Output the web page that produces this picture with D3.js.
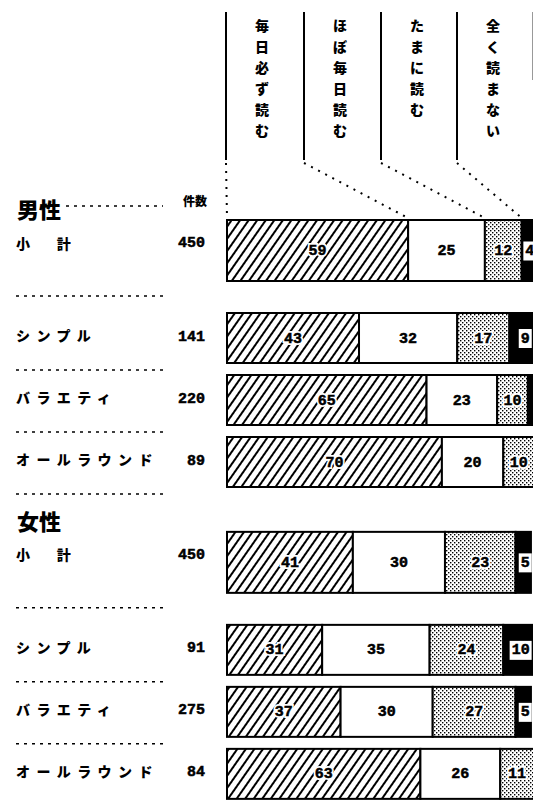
<!DOCTYPE html>
<html>
<head>
<meta charset="utf-8">
<script src="https://cdn.jsdelivr.net/npm/d3@7"></script>
<style>
  html, body { margin: 0; padding: 0; background: #fff; }
  svg { display: block; }
</style>
</head>
<body>
<div id="chart"></div>
<script>
// answer categories (stack order, left to right)
const categories = ["毎日必ず読む", "ほぼ毎日読む", "たまに読む", "全く読まない"];
const groups = ["男性", "女性"];
const rowLabels = ["小　計", "シンプル", "バラエティ", "オールラウンド"];
const countHeader = "件数";

const maleCounts = [450, 141, 220, 89];
const femaleCounts = [450, 91, 275, 84];

// percentages per row: [毎日必ず, ほぼ毎日, たまに, 全く]
const maleValues = [
  [59, 25, 12, 4],
  [43, 32, 17, 9],
  [65, 23, 10, 2],
  [70, 20, 10, 0]
];
const femaleValues = [
  [41, 30, 23, 5],
  [31, 35, 24, 10],
  [37, 30, 27, 5],
  [63, 26, 11, 0]
];

const width = 533, height = 802;
const jp = "'Noto Sans CJK JP', 'Noto Sans', sans-serif";
const num = "'Liberation Mono', 'DejaVu Sans Mono', monospace";

const svg = d3.select("#chart").append("svg")
    .attr("width", width)
    .attr("height", height);

svg.append("rect").attr("width", width).attr("height", height).attr("fill", "#fff");

const defs = svg.append("defs");
defs.append("pattern")
    .attr("id", "hatch")
    .attr("patternUnits", "userSpaceOnUse")
    .attr("width", 7).attr("height", 7)
    .attr("patternTransform", "rotate(35)")
  .call(p => p.append("rect").attr("width", 7).attr("height", 7).attr("fill", "#fff"))
  .append("line")
    .attr("x1", 1).attr("y1", 0).attr("x2", 1).attr("y2", 7)
    .attr("stroke", "#000").attr("stroke-width", 2);

const dots = defs.append("pattern")
    .attr("id", "dots")
    .attr("patternUnits", "userSpaceOnUse")
    .attr("width", 4).attr("height", 4);
dots.append("rect").attr("width", 4).attr("height", 4).attr("fill", "#fff");
dots.append("rect").attr("x", 0).attr("y", 0).attr("width", 1.4).attr("height", 1.4).attr("fill", "#000");
dots.append("rect").attr("x", 2).attr("y", 2).attr("width", 1.4).attr("height", 1.4).attr("fill", "#000");

const fills = ["url(#hatch)", "#fff", "url(#dots)", "#000"];

// x: percent scale
const x = d3.scaleLinear().domain([0, 100]).range([227, 534]);
// y: layout slots (subtotal at slot 0, rows at 1.5, 2.5, 3.5; female offset 5)
const y = d3.scaleLinear().domain([0, 1]).range([220, 282]);

const rows = [];
[maleValues, femaleValues].forEach((vals, g) => {
  const counts = g === 0 ? maleCounts : femaleCounts;
  vals.forEach((v, i) => {
    const slot = g * 5.03 + (i === 0 ? 0 : i + 0.5);
    rows.push({
      group: g, index: i, label: rowLabels[i], count: counts[i],
      values: v, top: y(slot), h: i === 0 ? 61 : 50
    });
  });
});

const stack = d3.stack().keys(d3.range(categories.length));

// header: vertical lines and labels
const headX = [226, 304, 381, 457];
const header = svg.append("g");
header.selectAll("line.col")
  .data(headX)
  .join("line")
    .attr("x1", d => d).attr("x2", d => d)
    .attr("y1", 12).attr("y2", 160)
    .attr("stroke", "#000").attr("stroke-width", 2);
header.append("line")
    .attr("x1", 532.5).attr("x2", 532.5).attr("y1", 12).attr("y2", 80)
    .attr("stroke", "#999").attr("stroke-width", 1);

categories.forEach((c, k) => {
  header.append("g")
    .selectAll("text")
    .data(Array.from(c))
    .join("text")
      .attr("x", headX[k] + 36)
      .attr("y", (d, j) => 25 + j * 21)
      .attr("text-anchor", "middle")
      .attr("dominant-baseline", "central")
      .attr("font-family", jp)
      .attr("font-weight", 900)
      .attr("font-size", 14)
      .text(d => d);
});

// dotted connectors to first bar boundaries
const first = rows[0];
const firstStack = stack([first.values]);
const bounds = firstStack.map(s => x(s[0][0]));
header.selectAll("line.conn")
  .data(headX)
  .join("line")
    .attr("x1", d => d).attr("y1", 163)
    .attr("x2", (d, k) => bounds[k]).attr("y2", first.top - 2)
    .attr("stroke", "#000").attr("stroke-width", 2)
    .attr("stroke-dasharray", "2,6");

// group titles
groups.forEach((gname, g) => {
  const r = rows.find(d => d.group === g && d.index === 0);
  svg.append("text")
    .attr("x", 17).attr("y", r.top - 12)
    .attr("dominant-baseline", "central")
    .attr("font-family", jp).attr("font-weight", 900).attr("font-size", 22)
    .text(gname);
  if (g === 0) {
    svg.append("line")
      .attr("x1", 66).attr("x2", 163)
      .attr("y1", r.top - 14).attr("y2", r.top - 14)
      .attr("stroke", "#000").attr("stroke-width", 1.5)
      .attr("stroke-dasharray", "3,5");
    svg.append("text")
      .attr("x", 207).attr("y", r.top - 20)
      .attr("text-anchor", "end")
      .attr("dominant-baseline", "central")
      .attr("font-family", jp).attr("font-weight", 900).attr("font-size", 12)
      .text(countHeader);
  }
});

// row labels, counts and separators
const rowG = svg.append("g").selectAll("g")
  .data(rows)
  .join("g");

rowG.append("text")
    .attr("x", 16)
    .attr("y", d => d.index === 0 ? d.top + d.h / 2 - 8 : d.top + d.h / 2 - 3)
    .attr("dominant-baseline", "central")
    .attr("font-family", jp).attr("font-weight", 900).attr("font-size", 14)
    .attr("letter-spacing", 6.4)
    .text(d => d.label);

rowG.append("text")
    .attr("x", 205)
    .attr("y", d => d.index === 0 ? d.top + d.h / 2 - 7 : d.top + d.h / 2 - 1)
    .attr("text-anchor", "end")
    .attr("dominant-baseline", "central")
    .attr("font-family", num).attr("font-weight", 700).attr("font-size", 15)
    .attr("stroke", "#000").attr("stroke-width", 0.5)
    .text(d => d.count);

rowG.filter((d, i) => i < rows.length - 1)
  .append("line")
    .attr("x1", 16).attr("x2", 164)
    .attr("y1", d => d.index === 0 ? d.top + d.h + 15 : d.top + d.h + 7)
    .attr("y2", d => d.index === 0 ? d.top + d.h + 15 : d.top + d.h + 7)
    .attr("stroke", "#000").attr("stroke-width", 1.5)
    .attr("stroke-dasharray", "3,5");

// bars
rows.forEach(r => {
  const series = stack([r.values]);
  const g = svg.append("g");
  g.selectAll("rect")
    .data(series)
    .join("rect")
      .attr("x", s => x(s[0][0]))
      .attr("y", r.top)
      .attr("width", s => x(s[0][1]) - x(s[0][0]))
      .attr("height", r.h)
      .attr("fill", (s, k) => fills[k])
      .attr("stroke", "#000")
      .attr("stroke-width", 2);

  series.forEach((s, k) => {
    const v = r.values[k];
    if (v < 4) return;
    const cx = (x(s[0][0]) + x(s[0][1])) / 2 + (k === 3 ? 2 : 0);
    const cy = r.top + r.h / 2 + 1;
    const label = String(v);
    if (k === 3) {
      const w = label.length * 9 + 4;
      g.append("rect")
        .attr("x", cx - w / 2).attr("y", cy - 10)
        .attr("width", w).attr("height", 19)
        .attr("fill", "#fff");
    }
    if (k === 0 || k === 2) {
      g.append("text")
        .attr("x", cx).attr("y", cy)
        .attr("text-anchor", "middle")
        .attr("dominant-baseline", "central")
        .attr("font-family", num).attr("font-weight", 700).attr("font-size", 15)
        .attr("fill", "#fff").attr("stroke", "#fff").attr("stroke-width", 4)
        .text(label);
    }
    g.append("text")
      .attr("x", cx).attr("y", cy)
      .attr("text-anchor", "middle")
      .attr("dominant-baseline", "central")
      .attr("font-family", num).attr("font-weight", 700).attr("font-size", 15)
      .attr("fill", "#000").attr("stroke", "#000").attr("stroke-width", 0.5)
      .text(label);
  });
});
</script>
</body>
</html>
